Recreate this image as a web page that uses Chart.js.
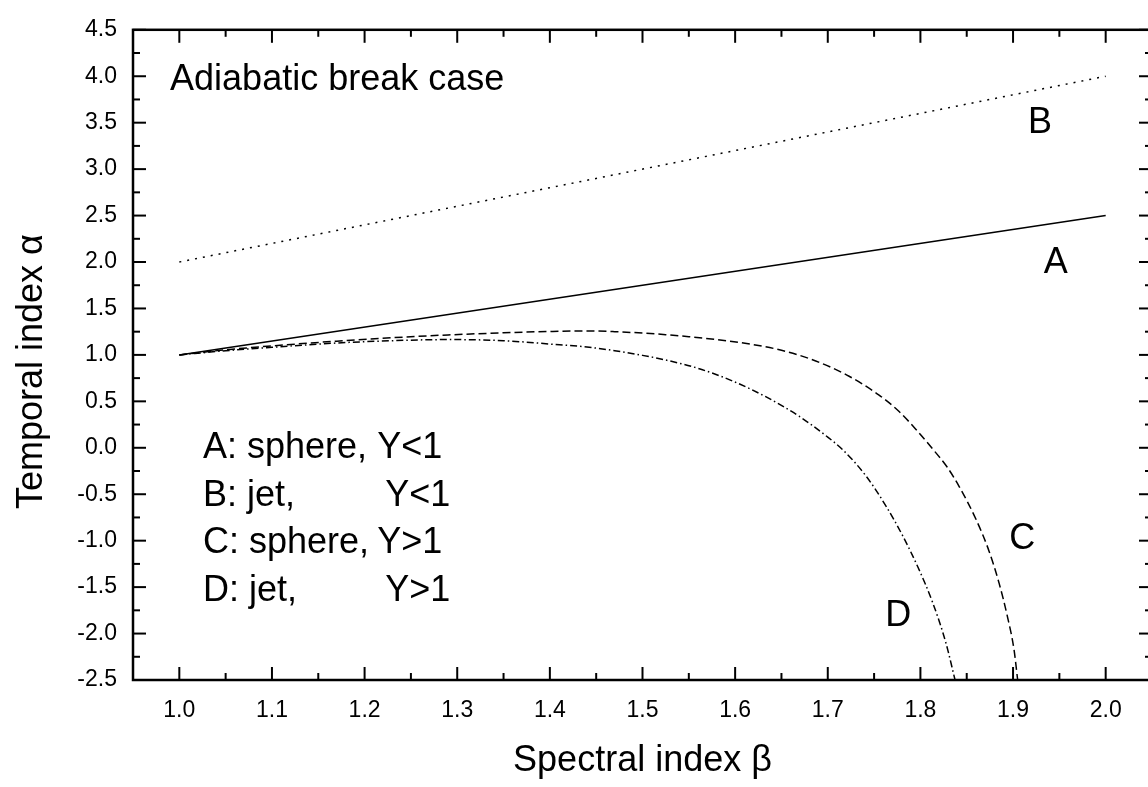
<!DOCTYPE html>
<html>
<head>
<meta charset="utf-8">
<script src="https://cdn.jsdelivr.net/npm/chart.js@4.4.1/dist/chart.umd.min.js"></script>
<style>
  html, body { margin: 0; padding: 0; overflow: hidden; background: #fff; }
  #wrap { width: 1160px; height: 787px; }
</style>
</head>
<body>
<div id="wrap"><canvas id="chart" width="1160" height="787"></canvas></div>
<script>
// tick labels
const xTicks = [1.0, 1.1, 1.2, 1.3, 1.4, 1.5, 1.6, 1.7, 1.8, 1.9, 2.0];
const yTicks = [-2.5, -2.0, -1.5, -1.0, -0.5, 0.0, 0.5, 1.0, 1.5, 2.0, 2.5, 3.0, 3.5, 4.0, 4.5];

// A: sphere, Y<1 (solid)
const betaA = [1.0, 2.0];
const alphaA = [1.0, 2.5];
// B: jet, Y<1 (dotted)
const betaB = [1.0, 2.0];
const alphaB = [2.0, 4.0];
// C: sphere, Y>1 (dashed)
const betaC = [1.00, 1.05, 1.10, 1.17, 1.23, 1.29, 1.35, 1.40, 1.44, 1.47, 1.50, 1.525, 1.55, 1.58, 1.62, 1.65, 1.687, 1.723, 1.755, 1.777, 1.795, 1.813, 1.829, 1.842, 1.860, 1.874, 1.885, 1.894, 1.901, 1.905];
const alphaC = [1.00, 1.055, 1.097, 1.148, 1.185, 1.215, 1.238, 1.252, 1.258, 1.25, 1.235, 1.218, 1.196, 1.165, 1.11, 1.05, 0.935, 0.77, 0.57, 0.39, 0.20, -0.01, -0.21, -0.42, -0.77, -1.11, -1.46, -1.82, -2.17, -2.5];
// D: jet, Y>1 (dash-dot)
const betaD = [1.00, 1.05, 1.10, 1.17, 1.23, 1.29, 1.35, 1.40, 1.44, 1.47, 1.50, 1.525, 1.56, 1.597, 1.633, 1.669, 1.698, 1.716, 1.741, 1.763, 1.781, 1.798, 1.813, 1.8275, 1.8374];
const alphaD = [1.00, 1.045, 1.082, 1.128, 1.153, 1.165, 1.153, 1.117, 1.085, 1.045, 0.995, 0.945, 0.855, 0.72, 0.55, 0.34, 0.13, -0.02, -0.30, -0.63, -0.95, -1.30, -1.66, -2.10, -2.5];

// curve letters
const curveLetters = ['A', 'B', 'C', 'D'];
const letterBeta = [1.946, 1.929, 1.910, 1.776];
const letterAlpha = [1.99, 3.494, -0.983, -1.808];

// legend text
const legendKeys = ['A: sphere,', 'B: jet,', 'C: sphere,', 'D: jet,'];
const legendConds = ['Y<1', 'Y<1', 'Y>1', 'Y>1'];

const FONT = "'Liberation Sans', Arial, Helvetica, sans-serif";

const toPoints = (bs, as) => bs.map((b, i) => ({ x: b, y: as[i] }));

// minor ticks halfway between major ones
const midpoints = arr => arr.slice(1).map((v, i) => (v + arr[i]) / 2);
const xMinor = midpoints(xTicks).concat([2.05]);
const yMinor = midpoints(yTicks);

const framePlugin = {
  id: 'frame',
  afterDraw(chart) {
    const { ctx, chartArea: a, scales: { x, y } } = chart;
    ctx.save();
    ctx.strokeStyle = '#000';
    ctx.lineWidth = 2.5;
    ctx.strokeRect(a.left, a.top, a.right - a.left, a.bottom - a.top);
    ctx.lineWidth = 2;
    const seg = (x1, y1, x2, y2) => { ctx.beginPath(); ctx.moveTo(x1, y1); ctx.lineTo(x2, y2); ctx.stroke(); };
    const xt = (v, len) => { const p = x.getPixelForValue(v); seg(p, a.bottom, p, a.bottom - len); seg(p, a.top, p, a.top + len); };
    const yt = (v, len) => { const p = y.getPixelForValue(v); seg(a.left, p, a.left + len, p); seg(a.right, p, a.right - len, p); };
    xTicks.forEach(v => xt(v, 13));
    xMinor.forEach(v => xt(v, 7));
    yTicks.forEach(v => yt(v, 13));
    yMinor.forEach(v => yt(v, 7));
    ctx.restore();
  },
  afterDatasetsDraw(chart) {
    const { ctx, scales: { x, y } } = chart;
    ctx.save();
    ctx.fillStyle = '#000';
    ctx.textBaseline = 'alphabetic';
    ctx.textAlign = 'left';
    ctx.font = '36px ' + FONT;
    ctx.fillText('Adiabatic break case', x.getPixelForValue(0.99), y.getPixelForValue(3.848));

    // y axis title, sits a little below the middle of the axis
    ctx.save();
    ctx.translate(42, y.getPixelForValue(0.82));
    ctx.rotate(-Math.PI / 2);
    ctx.textAlign = 'center';
    ctx.fillText('Temporal index α', 0, 0);
    ctx.restore();

    // legend: the Y column lines up after "A: sphere, "
    const rowAlpha = [-0.106, -0.624, -1.131, -1.649];
    const left = x.getPixelForValue(1.0256);
    const col = left + ctx.measureText(legendKeys[0] + ' ').width;
    legendKeys.forEach((k, i) => {
      const py = y.getPixelForValue(rowAlpha[i]);
      ctx.fillText(k, left, py);
      ctx.fillText(legendConds[i], col + (k.length < 9 ? 8 : 0), py);
    });

    ctx.textAlign = 'center';
    ctx.textBaseline = 'middle';
    curveLetters.forEach((t, i) => {
      ctx.fillText(t, x.getPixelForValue(letterBeta[i]), y.getPixelForValue(letterAlpha[i]));
    });
    ctx.restore();
  }
};

const line = (data, dash, smooth) => ({
  data,
  showLine: true,
  borderColor: '#000',
  borderWidth: 1.5,
  borderDash: dash,
  pointRadius: 0,
  fill: false,
  cubicInterpolationMode: smooth ? 'monotone' : 'default',
  tension: 0
});

new Chart(document.getElementById('chart').getContext('2d'), {
  type: 'scatter',
  data: {
    datasets: [
      line(toPoints(betaA, alphaA), [], false),
      line(toPoints(betaB, alphaB), [2, 6], false),
      line(toPoints(betaC, alphaC), [8, 4], true),
      line(toPoints(betaD, alphaD), [7, 3, 1.5, 3], true)
    ]
  },
  options: {
    responsive: false,
    animation: false,
    devicePixelRatio: 1,
    layout: { padding: { top: 17, right: 8, left: 0, bottom: 0 } },
    plugins: { legend: { display: false }, tooltip: { enabled: false } },
    scales: {
      x: {
        type: 'linear',
        min: 0.95,
        max: 2.05,
        afterBuildTicks: s => { s.ticks = xTicks.map(v => ({ value: v })); },
        afterFit: s => { s.height = 107; },
        grid: { display: false, drawTicks: false },
        border: { display: false },
        ticks: {
          color: '#000',
          padding: 17,
          maxRotation: 0,
          font: { family: FONT, size: 23 },
          callback: v => Number(v).toFixed(1)
        },
        title: {
          display: true,
          text: 'Spectral index β',
          color: '#000',
          font: { family: FONT, size: 36 },
          padding: { top: 0, bottom: 4 }
        }
      },
      y: {
        type: 'linear',
        min: -2.5,
        max: 4.5,
        afterBuildTicks: s => { s.ticks = yTicks.map(v => ({ value: v })); },
        afterFit: s => { s.width = 133; },
        grid: { display: false, drawTicks: false },
        border: { display: false },
        ticks: {
          color: '#000',
          padding: 16,
          font: { family: FONT, size: 23 },
          callback: v => Number(v).toFixed(1)
        }
      }
    }
  },
  plugins: [framePlugin]
});
</script>
</body>
</html>
